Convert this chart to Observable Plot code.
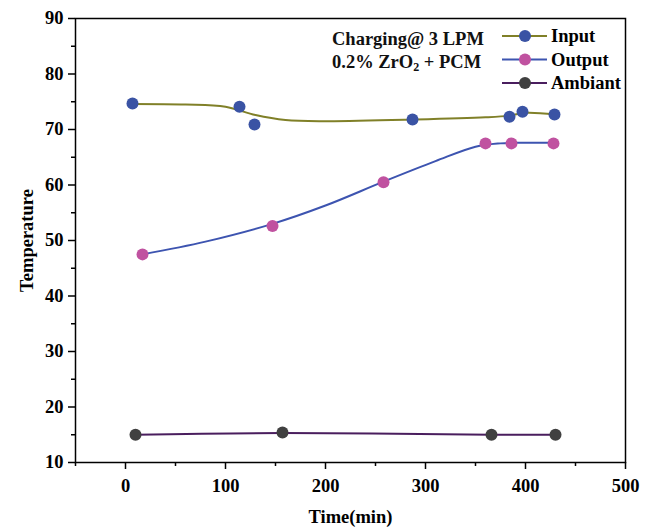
<!DOCTYPE html>
<html>
<head>
<meta charset="utf-8">
<script src="https://cdn.jsdelivr.net/npm/d3@7"></script>
<script src="https://cdn.jsdelivr.net/npm/@observablehq/plot@0.6"></script>
<style>
  body { margin: 0; background: #fff; }
  #wrap { position: relative; width: 650px; height: 529px; font-family: "Liberation Serif", "DejaVu Serif", serif; }
  #note { position: absolute; left: 332px; top: 28px; font-weight: bold; font-size: 18.5px; line-height: 23px; color: #111; }
  #legend { position: absolute; left: 500px; top: 25px; }
</style>
</head>
<body>
<div id="wrap"></div>
<script>
// Measured points
const inputTime = [7, 114, 129, 287, 384, 397, 429];
const inputTemp = [74.7, 74.1, 70.9, 71.8, 72.3, 73.2, 72.7];
const outputTime = [17, 147, 258, 360, 386, 428];
const outputTemp = [47.5, 52.6, 60.5, 67.5, 67.5, 67.5];
const ambientTime = [10, 157, 366, 430];
const ambientTemp = [15.0, 15.4, 15.0, 15.0];
// Smoothed fit lines
const inputFitTime = [7, 60, 100, 130, 160, 200, 290, 360, 384, 400, 430];
const inputFitTemp = [74.6, 74.5, 74.1, 72.6, 71.7, 71.5, 71.8, 72.2, 72.5, 73.0, 72.7];
const outputFitTime = [17, 80, 147, 200, 258, 310, 350, 375, 390, 430];
const outputFitTemp = [47.5, 49.8, 53.0, 56.3, 60.6, 64.3, 66.9, 67.5, 67.6, 67.6];
const ambientFitTime = [10, 157, 366, 430];
const ambientFitTemp = [15.0, 15.3, 15.0, 15.0];

const seriesNames = ["Input", "Output", "Ambiant"];
const dotColors = ["#3a53a4", "#c052a0", "#404040"];
const lineColors = ["#808028", "#3d54b0", "#4a1e5e"];
const yTicks = [10, 20, 30, 40, 50, 60, 70, 80, 90];
const yMinor = [15, 25, 35, 45, 55, 65, 75, 85];
const xTicks = [0, 100, 200, 300, 400, 500];
const xMinor = [-50, 50, 150, 250, 350, 450];

const zip = (xs, ys) => xs.map((x, i) => ({x, y: ys[i]}));
const pts = [zip(inputTime, inputTemp), zip(outputTime, outputTemp), zip(ambientTime, ambientTemp)];
const fits = [zip(inputFitTime, inputFitTemp), zip(outputFitTime, outputFitTemp), zip(ambientFitTime, ambientFitTemp)];

const font = {fontFamily: "Liberation Serif", fontSize: 18.5, fontWeight: "bold"};

const chart = Plot.plot({
  width: 650,
  height: 529,
  marginLeft: 75,
  marginRight: 25,
  marginTop: 18,
  marginBottom: 67,
  style: {fontFamily: "Liberation Serif", background: "#fff", color: "#000"},
  x: {domain: [-50, 500]},
  y: {domain: [10, 90]},
  marks: [
    Plot.axisY(yTicks, {tickSize: 7, tickPadding: 5, ...font, label: null, stroke: "#000", strokeWidth: 1.5}),
    Plot.axisY(yMinor, {tickSize: 4, text: null, label: null, stroke: "#000", strokeWidth: 1.5}),
    Plot.axisX(xTicks, {tickSize: 7, tickPadding: 9, ...font, label: "Time(min)", labelAnchor: "center", labelArrow: "none", labelOffset: 60, stroke: "#000", strokeWidth: 1.5}),
    Plot.axisX(xMinor, {tickSize: 4, text: null, label: null, stroke: "#000", strokeWidth: 1.5}),
    Plot.axisY({ticks: [], tickSize: 0, label: "Temperature", labelAnchor: "center", labelArrow: "none", labelOffset: 56, ...font}),
    Plot.frame({stroke: "#000", strokeWidth: 1.5}),
    ...fits.map((f, i) => Plot.line(f, {x: "x", y: "y", curve: "catmull-rom", stroke: lineColors[i], strokeWidth: 2})),
    ...pts.map((p, i) => Plot.dot(p, {x: "x", y: "y", r: 6, fill: dotColors[i], stroke: "none"}))
  ]
});

const wrap = document.getElementById("wrap");
wrap.appendChild(chart);

const note = document.createElement("div");
note.id = "note";
note.innerHTML = "Charging@ 3 LPM<br>0.2% ZrO<sub style='font-size:12px;vertical-align:-3px'>2</sub> + PCM";
wrap.appendChild(note);

const leg = d3.select(wrap).append("svg").attr("id", "legend").attr("width", 145).attr("height", 72);
seriesNames.forEach((name, i) => {
  const g = leg.append("g").attr("transform", `translate(0,${11 + i * 23.5})`);
  g.append("line").attr("x1", 2).attr("x2", 47).attr("y1", 0).attr("y2", 0).attr("stroke", lineColors[i]).attr("stroke-width", 2);
  g.append("circle").attr("cx", 25).attr("cy", 0).attr("r", 6).attr("fill", dotColors[i]);
  g.append("text").attr("x", 51).attr("y", 6).attr("font-family", "Liberation Serif").attr("font-weight", "bold").attr("font-size", 18.5).text(name);
});
</script>
</body>
</html>
